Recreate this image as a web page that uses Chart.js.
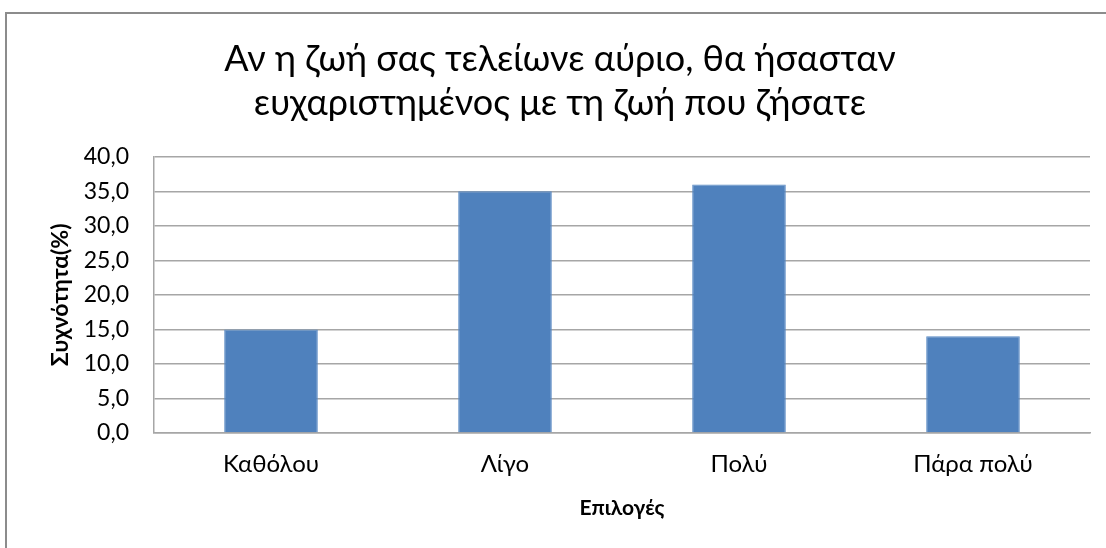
<!DOCTYPE html>
<html>
<head>
<meta charset="utf-8">
<script src="https://cdn.jsdelivr.net/npm/chart.js@4"></script>
<style>
  html,body{margin:0;padding:0;background:#fff;}
  #wrap{position:relative;width:1106px;height:548px;overflow:hidden;}
  #frame{position:absolute;left:5px;top:12px;width:1200px;height:600px;border-top:2px solid #8c8c8c;border-left:2px solid #8c8c8c;}
  canvas{position:absolute;left:0;top:0;}
</style>
</head>
<body>
<div id="wrap">
  <div id="frame"></div>
  <canvas id="c" width="1106" height="548"></canvas>
</div>
<script>
/* ── DATA ── */
const categories = ['Καθόλου', 'Λίγο', 'Πολύ', 'Πάρα πολύ'];
const values = [15, 35, 36, 14];
const yMin = 0, yMax = 40, yStep = 5;
const titleLines = ['Αν η ζωή σας τελείωνε αύριο, θα ήσασταν', 'ευχαριστημένος με τη ζωή που ζήσατε'];

const FONT = "Lato, 'Open Sans', sans-serif";
const GRID = '#a6a6a6';

new Chart(document.getElementById('c'), {
  type: 'bar',
  data: {
    labels: categories,
    datasets: [{
      data: values,
      backgroundColor: '#4f81bd',
      borderColor: '#5a8ac4',
      borderWidth: 1,
      categoryPercentage: 0.4,
      barPercentage: 1
    }]
  },
  options: {
    responsive: false,
    animation: false,
    layout: { padding: { top: 38, left: 30, right: 16, bottom: 27 } },
    plugins: {
      legend: { display: false },
      tooltip: { enabled: false },
      title: {
        display: true,
        text: titleLines,
        color: '#000',
        font: { family: FONT, size: 36, weight: 'normal', lineHeight: 1.205 },
        padding: { top: 0, bottom: 32 }
      }
    },
    scales: {
      y: {
        min: yMin, max: yMax,
        afterFit: s => { s.width = 124; },   // plot left edge at ~154px
        ticks: {
          stepSize: yStep,
          color: '#000',
          font: { family: FONT, size: 23 },
          padding: 25,
          callback: v => v.toFixed(1).replace('.', ',')
        },
        grid: { color: GRID, lineWidth: 1.5, drawTicks: false },
        border: { color: GRID, width: 1.5 },
        title: {
          display: true, text: 'Συχνότητα(%)', color: '#000',
          font: { family: FONT, size: 23, weight: 'bold' }, padding: { top: 17, bottom: 0 }
        }
      },
      x: {
        ticks: { color: '#000', font: { family: FONT, size: 24 }, padding: 17 },
        grid: { display: false, drawTicks: false },
        border: { color: GRID, width: 1.5 },
        title: {
          display: true, text: 'Επιλογές', color: '#000',
          font: { family: FONT, size: 21, weight: 'bold' }, padding: { top: 0, bottom: 0 }
        }
      }
    }
  }
});
</script>
</body>
</html>
